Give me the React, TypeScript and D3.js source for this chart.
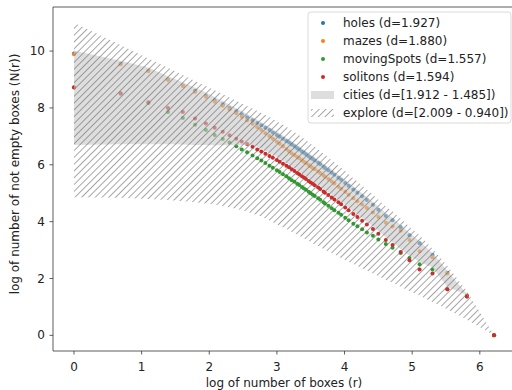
import * as d3 from 'd3';
import React from 'react';

// log of box count per side (ln r), shared by every series
const logBoxes = [
    0, 0.69, 1.10, 1.39, 1.61, 1.79, 1.95, 2.08, 2.20, 2.30,
    2.40, 2.48, 2.56, 2.64, 2.71, 2.77, 2.83, 2.89, 2.94, 3.00,
    3.04, 3.09, 3.14, 3.18, 3.22, 3.26, 3.30, 3.33, 3.37, 3.40,
    3.43, 3.47, 3.50, 3.53, 3.56, 3.61, 3.64, 3.69, 3.71, 3.76,
    3.81, 3.85, 3.91, 3.95, 4.01, 4.06, 4.13, 4.19, 4.26, 4.33,
    4.42, 4.50, 4.61, 4.71, 4.83, 4.96, 5.11, 5.30, 5.52, 5.81, 6.21,
];

const holes = [
    9.91, 9.55, 9.31, 9.00, 8.79, 8.60, 8.43, 8.27, 8.13, 8.00,
    7.88, 7.78, 7.67, 7.57, 7.47, 7.39, 7.30, 7.22, 7.14, 7.05,
    6.99, 6.92, 6.84, 6.78, 6.71, 6.65, 6.58, 6.54, 6.47, 6.42,
    6.37, 6.30, 6.25, 6.20, 6.15, 6.07, 6.02, 5.93, 5.89, 5.81,
    5.72, 5.65, 5.54, 5.47, 5.36, 5.26, 5.13, 5.02, 4.89, 4.76,
    4.59, 4.42, 4.20, 4.05, 3.80, 3.52, 3.24, 2.83, 2.20, 1.39, 0,
];

const mazes = [
    9.89, 9.54, 9.30, 8.98, 8.77, 8.56, 8.39, 8.22, 8.08, 7.95,
    7.81, 7.69, 7.56, 7.44, 7.32, 7.22, 7.11, 7.01, 6.92, 6.81,
    6.74, 6.65, 6.55, 6.48, 6.40, 6.34, 6.27, 6.23, 6.16, 6.11,
    6.06, 5.99, 5.94, 5.89, 5.84, 5.76, 5.71, 5.62, 5.58, 5.50,
    5.41, 5.34, 5.23, 5.16, 5.05, 4.95, 4.82, 4.72, 4.60, 4.48,
    4.32, 4.16, 3.96, 3.83, 3.68, 3.35, 2.96, 2.75, 2.18, 1.39, 0,
];

const movingSpots = [
    8.72, 8.50, 8.17, 7.86, 7.65, 7.41, 7.22, 7.05, 6.91, 6.78,
    6.65, 6.54, 6.44, 6.33, 6.23, 6.15, 6.06, 5.97, 5.90, 5.81,
    5.75, 5.67, 5.60, 5.53, 5.46, 5.40, 5.33, 5.29, 5.22, 5.17,
    5.12, 5.05, 5.00, 4.95, 4.90, 4.82, 4.77, 4.68, 4.64, 4.56,
    4.47, 4.40, 4.31, 4.24, 4.14, 4.05, 3.93, 3.84, 3.73, 3.62,
    3.50, 3.37, 3.21, 3.08, 2.90, 2.72, 2.50, 2.32, 1.62, 1.37, 0,
];

const solitons = [
    8.73, 8.52, 8.20, 8.00, 7.86, 7.63, 7.45, 7.30, 7.16, 7.04,
    6.92, 6.82, 6.73, 6.63, 6.54, 6.47, 6.39, 6.31, 6.25, 6.17,
    6.11, 6.04, 5.97, 5.91, 5.84, 5.78, 5.71, 5.67, 5.60, 5.55,
    5.50, 5.43, 5.38, 5.33, 5.28, 5.20, 5.15, 5.06, 5.02, 4.94,
    4.85, 4.78, 4.68, 4.61, 4.50, 4.40, 4.27, 4.16, 4.03, 3.90,
    3.74, 3.57, 3.35, 3.18, 2.93, 2.64, 2.32, 2.18, 1.62, 1.37, 0,
];

const citiesMax = [
    10.02, 9.66, 9.42, 9.11, 8.90, 8.71, 8.54, 8.38, 8.24, 8.11,
    7.99, 7.89, 7.78, 7.68, 7.58, 7.50, 7.41, 7.33, 7.25, 7.16,
    7.10, 7.03, 6.95, 6.89, 6.82, 6.76, 6.69, 6.65, 6.58, 6.53,
    6.48, 6.41, 6.36, 6.31, 6.26, 6.18, 6.13, 6.04, 6.00, 5.92,
    5.83, 5.76, 5.65, 5.58, 5.47, 5.37, 5.24, 5.13, 5.00, 4.87,
    4.69, 4.52, 4.30, 4.14, 3.88, 3.60, 3.31, 2.90, 2.27, 1.45, 0,
];

const citiesMin = [
    6.70, 6.72, 6.72, 6.72, 6.71, 6.70, 6.70, 6.69, 6.69, 6.69,
    6.69, 6.69, 6.69, 6.69, 6.64, 6.57, 6.49, 6.41, 6.35, 6.27,
    6.21, 6.14, 6.07, 6.01, 5.94, 5.88, 5.81, 5.77, 5.70, 5.65,
    5.60, 5.53, 5.48, 5.43, 5.38, 5.30, 5.25, 5.16, 5.12, 5.04,
    4.95, 4.88, 4.78, 4.71, 4.60, 4.50, 4.37, 4.26, 4.13, 4.00,
    3.84, 3.67, 3.45, 3.28, 3.03, 2.80, 2.58, 2.40, 1.70, 1.42, 0,
];

const exploreMax = [
    11.00, 10.21, 9.74, 9.41, 9.16, 8.95, 8.77, 8.62, 8.48, 8.37,
    8.25, 8.16, 8.07, 7.98, 7.90, 7.82, 7.75, 7.68, 7.61, 7.53,
    7.47, 7.41, 7.34, 7.28, 7.21, 7.15, 7.08, 7.04, 6.97, 6.92,
    6.87, 6.79, 6.74, 6.68, 6.63, 6.54, 6.49, 6.39, 6.35, 6.26,
    6.16, 6.09, 5.97, 5.90, 5.78, 5.67, 5.53, 5.41, 5.27, 5.13,
    4.95, 4.77, 4.53, 4.37, 4.11, 3.82, 3.52, 3.05, 2.45, 1.55, 0,
];

const exploreMin = [
    4.86, 4.84, 4.80, 4.76, 4.72, 4.68, 4.64, 4.60, 4.55, 4.50,
    4.45, 4.40, 4.35, 4.29, 4.23, 4.17, 4.11, 4.04, 3.98, 3.91,
    3.86, 3.80, 3.74, 3.69, 3.64, 3.59, 3.54, 3.50, 3.45, 3.41,
    3.37, 3.32, 3.28, 3.24, 3.20, 3.14, 3.10, 3.04, 3.01, 2.95,
    2.89, 2.84, 2.77, 2.72, 2.65, 2.59, 2.51, 2.44, 2.36, 2.28,
    2.18, 2.09, 1.96, 1.85, 1.71, 1.56, 1.39, 1.17, 0.92, 0.55, 0,
];

const xTicks = [0, 1, 2, 3, 4, 5, 6];
const yTicks = [0, 2, 4, 6, 8, 10];

const series = [
    { name: 'holes (d=1.927)', values: holes, color: '#1f77b4' },
    { name: 'mazes (d=1.880)', values: mazes, color: '#ff7f0e' },
    { name: 'movingSpots (d=1.557)', values: movingSpots, color: '#2ca02c' },
    { name: 'solitons (d=1.594)', values: solitons, color: '#d62728' },
];
const citiesLabel = 'cities (d=[1.912 - 1.485])';
const exploreLabel = 'explore (d=[2.009 - 0.940])';

const font = 'DejaVu Sans, sans-serif';
const fs = 12;

const App: React.FC = () => {
    const width = 512, height = 390;
    const plot = { left: 53, right: 515, top: 7, bottom: 351 };

    const x = d3.scaleLinear().domain([-0.31, 6.52]).range([plot.left, plot.right]);
    const y = d3.scaleLinear().domain([-0.55, 11.55]).range([plot.bottom, plot.top]);

    const band = (lo: number[], hi: number[]) =>
        d3.area<number>()
            .x((d) => x(d))
            .y0((_, i) => y(lo[i]))
            .y1((_, i) => y(hi[i]))(logBoxes) || '';

    const legendRows = [...series.map((s) => s.name), citiesLabel, exploreLabel];

    return (
        <svg width={width} height={height} style={{ position: 'absolute', left: 0, top: 0, background: '#fff' }}
             fontFamily={font}>
            <defs>
                <clipPath id="plotClip">
                    <rect x={plot.left} y={plot.top} width={plot.right - plot.left} height={plot.bottom - plot.top} />
                </clipPath>
                <pattern id="hatch" patternUnits="userSpaceOnUse" width={4.8} height={10}
                         patternTransform="rotate(45)">
                    <line x1={0} y1={0} x2={0} y2={10} stroke="#5e5e5e" strokeWidth={1.1} />
                </pattern>
            </defs>

            <g clipPath="url(#plotClip)">
                {series.map((s) => (
                    <g key={s.name}>
                        {s.values.map((v, i) => (
                            <circle key={i} cx={x(logBoxes[i])} cy={y(v)} r={2} fill={s.color} />
                        ))}
                    </g>
                ))}
                <path d={band(citiesMin, citiesMax)} fill="#c8c8c8" fillOpacity={0.6} />
                <path d={band(exploreMin, exploreMax)} fill="url(#hatch)" />
            </g>

            {/* spines */}
            <line x1={plot.left} x2={plot.left} y1={plot.top} y2={plot.bottom} stroke="#333" strokeWidth={0.8} />
            <line x1={plot.left} x2={plot.right} y1={plot.bottom} y2={plot.bottom} stroke="#333" strokeWidth={0.8} />
            <line x1={plot.left} x2={plot.right} y1={plot.top} y2={plot.top} stroke="#333" strokeWidth={0.8} />

            {/* x axis */}
            {xTicks.map((t) => (
                <g key={t} transform={`translate(${x(t)},${plot.bottom})`}>
                    <line y2={3.5} stroke="#333" strokeWidth={0.8} />
                    <text y={16} textAnchor="middle" dominantBaseline="central" fontSize={fs} fill="#222">{t}</text>
                </g>
            ))}
            <text x={(plot.left + plot.right) / 2} y={383} textAnchor="middle" dominantBaseline="central"
                  fontSize={fs} fill="#222">log of number of boxes (r)</text>

            {/* y axis */}
            {yTicks.map((t) => (
                <g key={t} transform={`translate(${plot.left},${y(t)})`}>
                    <line x2={-3.5} stroke="#333" strokeWidth={0.8} />
                    <text x={-8} textAnchor="end" dominantBaseline="central" fontSize={fs} fill="#222">{t}</text>
                </g>
            ))}
            <text transform="translate(15,174) rotate(-90)" textAnchor="middle"
                  dominantBaseline="central" fontSize={fs} fill="#222">
                log of number of not empty boxes (N(r))
            </text>

            {/* legend */}
            <g>
                <rect x={308} y={12} width={203} height={111} rx={3} fill="#fff" fillOpacity={0.8}
                      stroke="#d0d0d0" strokeWidth={0.8} />
                {legendRows.map((label, i) => {
                    const cy = 23 + i * 18;
                    return (
                        <g key={label}>
                            {i < series.length && <circle cx={323} cy={cy} r={2} fill={series[i].color} />}
                            {i === 4 && <rect x={311} y={cy - 4} width={23} height={8} fill="#c8c8c8" fillOpacity={0.6} />}
                            {i === 5 && <rect x={311} y={cy - 4} width={23} height={8} fill="url(#hatch)" />}
                            <text x={343} y={cy} dominantBaseline="central" fontSize={fs} fill="#222">{label}</text>
                        </g>
                    );
                })}
            </g>
        </svg>
    );
};

export default App;
